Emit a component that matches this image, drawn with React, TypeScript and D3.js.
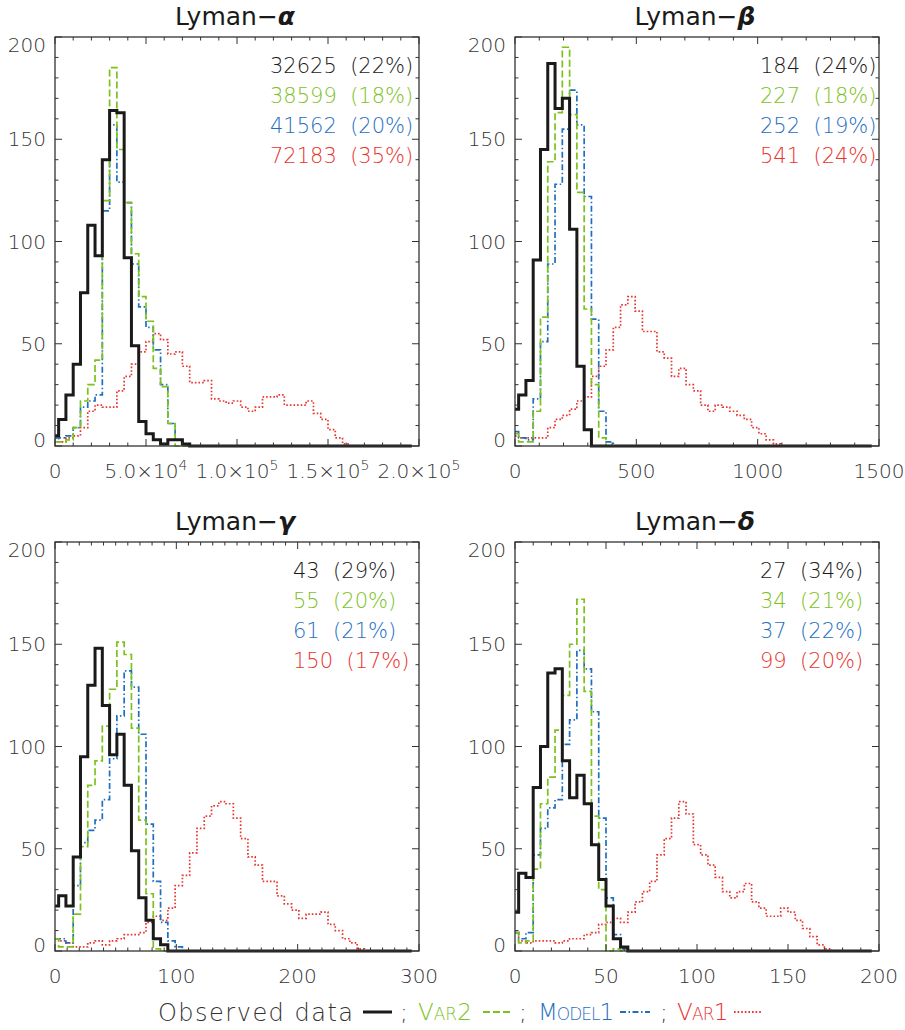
import React from "react";
import * as d3 from "d3";

// histogram counts (bins centred on multiples of the bin width;
// bins past the last listed one are empty)
const nBins = 50;

const alphaObs = [5, 13, 25, 40, 75, 108, 93, 140, 164, 163, 92, 49, 12, 6, 3, 1, 3, 3, 1];
const alphaVar2 = [2, 2, 3, 9, 22, 30, 42, 120, 185, 145, 119, 94, 73, 61, 38, 29, 11];
const alphaModel1 = [4, 4, 5, 9, 19, 22, 25, 115, 157, 129, 119, 89, 68, 58, 47, 30, 11, 3];
const alphaVar1 = [4, 2, 4, 5, 9, 17, 20, 19, 19, 27, 34, 40, 46, 51, 55, 52, 45, 46, 39, 31, 31, 32, 23, 22, 21, 22, 19, 17, 19, 24, 24, 25, 20, 20, 20, 22, 16, 13, 8, 4, 1];

const betaObs = [18, 25, 32, 91, 145, 187, 165, 170, 106, 39, 8];
const betaVar2 = [6, 2, 2, 17, 63, 139, 163, 195, 162, 124, 67, 30, 4];
const betaModel1 = [7, 4, 3, 23, 51, 89, 128, 155, 174, 157, 122, 62, 17, 2];
const betaVar1 = [5, 4, 4, 4, 4, 9, 13, 15, 18, 22, 24, 34, 39, 47, 58, 69, 73, 66, 56, 56, 46, 43, 34, 38, 30, 27, 20, 17, 20, 19, 17, 15, 13, 9, 6, 3, 1];

const gammaObs = [22, 27, 22, 46, 95, 130, 148, 120, 96, 106, 81, 49, 26, 15, 6, 3];
const gammaVar2 = [6, 2, 2, 18, 51, 81, 93, 110, 128, 151, 145, 109, 64, 28, 1];
const gammaModel1 = [6, 6, 4, 32, 53, 59, 64, 74, 94, 115, 137, 129, 106, 62, 34, 14, 5, 2];
const gammaVar1 = [6, 5, 4, 2, 2, 4, 5, 3, 5, 6, 8, 8, 9, 14, 17, 15, 21, 32, 37, 48, 60, 66, 71, 73, 72, 65, 55, 46, 42, 34, 34, 27, 23, 20, 16, 18, 18, 19, 13, 10, 6, 4, 1];

const deltaObs = [19, 38, 36, 80, 100, 136, 138, 93, 75, 86, 72, 52, 35, 22, 6, 2];
const deltaVar2 = [9, 4, 5, 40, 72, 85, 108, 125, 150, 172, 127, 66, 30, 0, 1];
const deltaModel1 = [9, 6, 9, 47, 60, 70, 74, 101, 113, 147, 138, 117, 65, 26, 8, 1];
const deltaVar1 = [9, 5, 4, 5, 5, 5, 4, 5, 6, 6, 8, 9, 13, 14, 16, 14, 19, 24, 29, 34, 47, 55, 65, 73, 67, 52, 47, 42, 36, 29, 26, 29, 33, 24, 21, 17, 17, 21, 19, 15, 11, 7, 3, 1];

// totals and percentages printed in each panel (obs, var2, model1, var1)
const alphaTotals = [32625, 38599, 41562, 72183];
const alphaPct = [22, 18, 20, 35];
const betaTotals = [184, 227, 252, 541];
const betaPct = [24, 18, 19, 24];
const gammaTotals = [43, 55, 61, 150];
const gammaPct = [29, 20, 21, 17];
const deltaTotals = [27, 34, 37, 99];
const deltaPct = [34, 21, 22, 20];

const greek = ["α", "β", "γ", "δ"];
const binWidths = [4000, 30, 6, 4];
const xMaxes = [2e5, 1500, 300, 200];
const xMajorTicks = [
  [0, 5e4, 1e5, 1.5e5, 2e5],
  [0, 500, 1000, 1500],
  [0, 100, 200, 300],
  [0, 50, 100, 150, 200],
];
const xMinorSteps = [1e4, 100, 10, 10];
const yMajorTicks = [0, 50, 100, 150, 200];

const COLORS = ["#1a1a1a", "#7dc21c", "#1f6fbf", "#e8342e"];
const DASH = [null, "7,3", "6,2.5,1.5,2.5", "1.6,2"];
const WIDTH = [3, 1.7, 1.7, 1.7];
const FONT = "'DejaVu Sans', 'Liberation Sans', sans-serif";

const series = [
  [alphaObs, alphaVar2, alphaModel1, alphaVar1],
  [betaObs, betaVar2, betaModel1, betaVar1],
  [gammaObs, gammaVar2, gammaModel1, gammaVar1],
  [deltaObs, deltaVar2, deltaModel1, deltaVar1],
];
const totals = [alphaTotals, betaTotals, gammaTotals, deltaTotals];
const pcts = [alphaPct, betaPct, gammaPct, deltaPct];

const PW = 364;
const PH = 409;
const lefts = [55, 515, 55, 515];
const tops = [37, 37, 542, 542];
const annX = [215, 245, 238, 245];
const annY = [28, 58, 88, 118];

const pad = (v: number[]) => d3.range(nBins).map((i) => (i < v.length ? v[i] : 0));

function xLabel(v: number, p: number) {
  if (p !== 0 || v === 0) return <tspan>{v}</tspan>;
  const e = Math.floor(Math.log10(v));
  const m = d3.format(".1f")(v / Math.pow(10, e));
  return (
    <>
      <tspan>{m}×10</tspan>
      <tspan fontSize={14} dy={-8}>{e}</tspan>
    </>
  );
}

function Panel({ p }: { p: number }) {
  const left = lefts[p];
  const top = tops[p];
  const x = d3.scaleLinear().domain([0, xMaxes[p]]).range([left, left + PW]);
  const y = d3.scaleLinear().domain([0, 200]).range([top + PH, top]);
  const bw = binWidths[p];
  const line = d3
    .line<number>()
    .x((_, i) => x(i * bw))
    .y((d) => y(d))
    .curve(d3.curveStep);

  const xMinor = d3.range(0, xMaxes[p] + 1e-9, xMinorSteps[p]);
  const yMinor = d3.range(0, 201, 10);
  const isMajorX = (v: number) => xMajorTicks[p].some((t) => Math.abs(t - v) < 1e-6);
  const bottom = top + PH;
  const right = left + PW;

  return (
    <g>
      <defs>
        <clipPath id={`clip${p}`}>
          <rect x={left} y={top - 2} width={PW} height={PH + 4} />
        </clipPath>
      </defs>
      <text
        x={left + PW / 2 - 2}
        y={top - 12}
        textAnchor="middle"
        fontSize={25}
        fontFamily={FONT}
        fill="#1a1a1a"
      >
        Lyman−
        <tspan fontWeight="bold" fontStyle="italic">
          {greek[p]}
        </tspan>
      </text>

      {/* histograms, drawn back to front */}
      <g clipPath={`url(#clip${p})`}>
        {[3, 2, 1, 0].map((s) => (
          <path
            key={s}
            d={line(pad(series[p][s])) || ""}
            fill="none"
            stroke={COLORS[s]}
            strokeWidth={WIDTH[s]}
            strokeDasharray={DASH[s] || undefined}
            strokeLinejoin="miter"
          />
        ))}
      </g>

      <rect x={left} y={top} width={PW} height={PH} fill="none" stroke="#333" strokeWidth={1.3} />

      {/* ticks on all four sides */}
      {xMinor.map((v) => {
        const len = isMajorX(v) ? 7 : 3.5;
        return (
          <g key={"x" + v} stroke="#333" strokeWidth={1}>
            <line x1={x(v)} x2={x(v)} y1={bottom} y2={bottom - len} />
            <line x1={x(v)} x2={x(v)} y1={top} y2={top + len} />
          </g>
        );
      })}
      {yMinor.map((v) => {
        const len = v % 50 === 0 ? 7 : 3.5;
        return (
          <g key={"y" + v} stroke="#333" strokeWidth={1}>
            <line x1={left} x2={left + len} y1={y(v)} y2={y(v)} />
            <line x1={right} x2={right - len} y1={y(v)} y2={y(v)} />
          </g>
        );
      })}

      {yMajorTicks.map((v) => (
        <text
          key={"yl" + v}
          x={left - 9}
          y={y(v) + (v === 200 ? 8 : v === 0 ? -6 : 0)}
          dy="0.36em"
          textAnchor="end"
          fontSize={20}
          fontFamily={FONT}
          fontWeight={300}
          fill="#333"
        >
          {v}
        </text>
      ))}
      {xMajorTicks[p].map((v) => (
        <text
          key={"xl" + v}
          x={x(v)}
          y={bottom + 25}
          dy="0.36em"
          textAnchor="middle"
          fontSize={20}
          fontFamily={FONT}
          fontWeight={300}
          fill="#333"
        >
          {xLabel(v, p)}
        </text>
      ))}

      {totals[p].map((t, i) => (
        <text
          key={"a" + i}
          x={left + annX[p]}
          y={top + annY[i]}
          dy="0.36em"
          fontSize={21}
          fontFamily={FONT}
          fontWeight={300}
          fill={COLORS[i]}
          style={{ whiteSpace: "pre" }}
        >
          {`${t}  (${pcts[p][i]}%)`}
        </text>
      ))}
    </g>
  );
}

function Legend() {
  const yc = 1012;
  const big = 23;
  const small = 17;
  const txt = { fontFamily: FONT, fontWeight: 300, fontSize: big } as const;
  return (
    <g>
      <text x={158} y={yc} dy="0.36em" fill="#333" {...txt} fontSize={24} textLength={195} lengthAdjust="spacing" style={{ whiteSpace: "pre" }}>
        Observed data
      </text>
      <line x1={363} x2={392} y1={yc} y2={yc} stroke={COLORS[0]} strokeWidth={3} />
      <text x={400} y={yc} dy="0.36em" fill="#333" {...txt}>;</text>
      <text x={418} y={yc} dy="0.36em" fill={COLORS[1]} {...txt}>
        V<tspan fontSize={small}>AR</tspan>2
      </text>
      <line x1={483} x2={513} y1={yc} y2={yc} stroke={COLORS[1]} strokeWidth={1.8} strokeDasharray={DASH[1]!} />
      <text x={519} y={yc} dy="0.36em" fill="#333" {...txt}>;</text>
      <text x={538} y={yc} dy="0.36em" fill={COLORS[2]} {...txt} letterSpacing={-1}>
        M<tspan fontSize={small}>ODEL</tspan>1
      </text>
      <line x1={620} x2={650} y1={yc} y2={yc} stroke={COLORS[2]} strokeWidth={1.8} strokeDasharray={DASH[2]!} />
      <text x={660} y={yc} dy="0.36em" fill="#333" {...txt}>;</text>
      <text x={677} y={yc} dy="0.36em" fill={COLORS[3]} {...txt} letterSpacing={-0.8}>
        V<tspan fontSize={small}>AR</tspan>1
      </text>
      <line x1={734} x2={762} y1={yc} y2={yc} stroke={COLORS[3]} strokeWidth={1.8} strokeDasharray={DASH[3]!} />
    </g>
  );
}

export default function App() {
  return (
    <svg width={905} height={1030} style={{ display: "block", position: "absolute", left: 0, top: 0 }}>
      <rect width={905} height={1030} fill="#fff" />
      {[0, 1, 2, 3].map((p) => (
        <Panel key={p} p={p} />
      ))}
      <Legend />
    </svg>
  );
}
